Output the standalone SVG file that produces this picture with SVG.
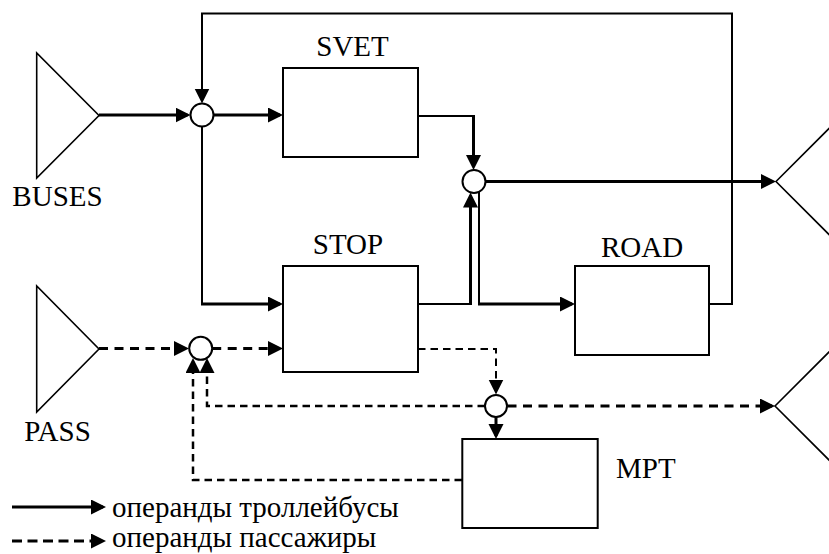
<svg xmlns="http://www.w3.org/2000/svg" width="829" height="554" viewBox="0 0 829 554">
<style>
text{font-family:'Liberation Serif','Times New Roman',serif;font-size:29px;fill:#000}
.box{fill:#fff;stroke:#000;stroke-width:2}
.tri{fill:#fff;stroke:#000;stroke-width:1.6}
.jn{fill:#fff;stroke:#000;stroke-width:2}
.c{fill:none;stroke:#000}
.w2{stroke-width:2}
.w25{stroke-width:2.5}
.w3{stroke-width:3}
.a{marker-end:url(#ah)}
.d1{stroke-dasharray:9 6.5}
.d2{stroke-dasharray:7.5 5}
.d3{stroke-dasharray:10 5.5}
</style>
<defs>
<marker id="ah" markerUnits="userSpaceOnUse" markerWidth="16" markerHeight="16" refX="12" refY="7.5" orient="auto">
<path d="M0,0 L15,7.5 L0,15 z" fill="#000"/>
</marker>
</defs>
<rect width="829" height="554" fill="#fff"/>
<g id="connectors">
<path class="c w3 a" d="M99,115 H187.5"/>
<path class="c w3 a" d="M213.5,115 H280"/>
<path class="c w2 a" d="M709,304 H732 V13.5 H202 V100.5"/>
<path class="c w2" d="M202,126.5 V304"/>
<path class="c w3 a" d="M201,304 H280"/>
<path class="c w2" d="M418,116 H473.5"/>
<path class="c w3 a" d="M473.5,115 V167"/>
<path class="c w2" d="M418,304 H470.5"/>
<path class="c w3 a" d="M470.5,305 V195.5"/>
<path class="c w2" d="M479,192 V304"/>
<path class="c w3 a" d="M478,304 H572"/>
<path class="c w3 a" d="M485.5,181.5 H773"/>
<path class="c w3 d1 a" d="M99,348.5 H186"/>
<path class="c w3 d1 a" d="M212.2,348.5 H280"/>
<path class="c w2 d2 a" d="M418,349 H496 V391.5"/>
<path class="c w3 a" d="M496,417 V436"/>
<path class="c w3 d1 a" d="M507.5,406 H772"/>
<path class="c w25 d2 a" d="M485,406 H207 V361"/>
<path class="c w25 d2 a" d="M462,480 H193 V361"/>
<path class="c w3 a" d="M12,507 H103"/>
<path class="c w3 d3 a" d="M12,541 H103"/>
</g>
<g id="BUSES">
<polygon class="tri" points="36.7,53 36.7,178 99,115.5"/>
<text x="57.5" y="206" text-anchor="middle">BUSES</text>
</g>
<g id="PASS">
<polygon class="tri" points="36.7,286 36.7,412 99,349"/>
<text x="57.5" y="441" text-anchor="middle">PASS</text>
</g>
<g id="SVET">
<rect class="box" x="283" y="68" width="135" height="89"/>
<text x="352.5" y="56" text-anchor="middle">SVET</text>
</g>
<g id="STOP">
<rect class="box" x="283" y="266" width="135" height="106"/>
<text x="348" y="254" text-anchor="middle">STOP</text>
</g>
<g id="ROAD">
<rect class="box" x="575" y="266" width="134" height="89"/>
<text x="642" y="257" text-anchor="middle">ROAD</text>
</g>
<g id="MPT">
<rect class="box" x="462.3" y="439" width="135.4" height="89"/>
<text x="616" y="478">MPT</text>
</g>
<g id="OUT1">
<polygon class="tri" points="776,181.5 850,107.5 850,255.5"/>
</g>
<g id="OUT2">
<polygon class="tri" points="775,406 850,331 850,481"/>
</g>
<g id="J1"><circle class="jn" cx="202" cy="115" r="11.5"/></g>
<g id="J2"><circle class="jn" cx="474" cy="181.5" r="11.5"/></g>
<g id="J3"><circle class="jn" cx="496" cy="406" r="11"/></g>
<g id="J4"><circle class="jn" cx="200.7" cy="348.3" r="11.5"/></g>
<g id="legend">
<text x="112" y="517">операнды троллейбусы</text>
<text x="112" y="547">операнды пассажиры</text>
</g>
</svg>
